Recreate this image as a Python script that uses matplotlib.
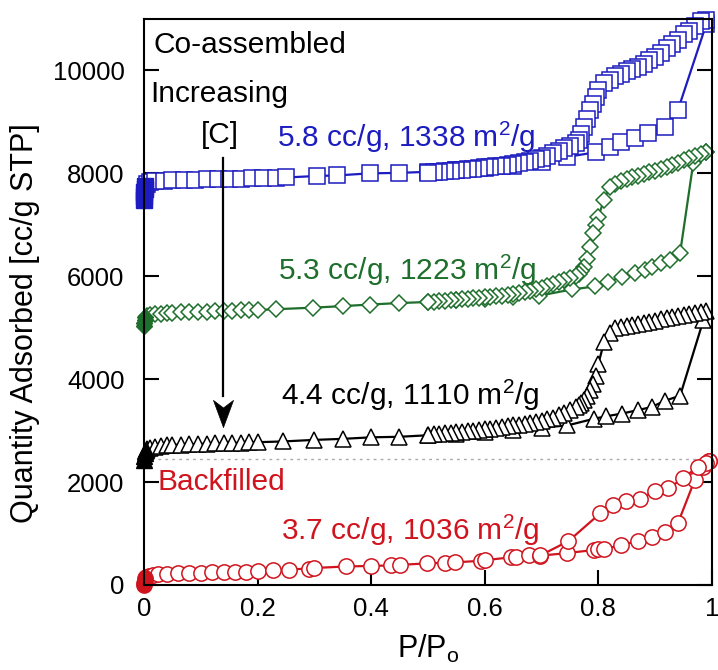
import matplotlib
matplotlib.use('Agg')
import matplotlib.pyplot as plt
from matplotlib.ticker import FuncFormatter

plt.rcParams['font.family'] = ['Liberation Sans', 'DejaVu Sans']
plt.rcParams['mathtext.fontset'] = 'custom'
plt.rcParams['mathtext.rm'] = 'Liberation Sans'
plt.rcParams['mathtext.it'] = 'Liberation Sans:italic'

# N2 isotherms, relative pressure vs quantity adsorbed (offset curves)
des_p = [0.99, 0.98, 0.97, 0.96, 0.95, 0.94, 0.93, 0.92, 0.91, 0.90,
         0.89, 0.88, 0.87, 0.86, 0.85, 0.84, 0.83, 0.82, 0.81, 0.80,
         0.795, 0.79, 0.785, 0.78, 0.775, 0.77, 0.765, 0.76, 0.75, 0.74,
         0.73, 0.72, 0.71, 0.70, 0.69, 0.68, 0.67, 0.66, 0.65, 0.64,
         0.63, 0.62, 0.61, 0.60, 0.59, 0.58, 0.57, 0.56, 0.55, 0.54,
         0.53, 0.52, 0.51, 0.50]

# blue - highest [C]
blue_low_p = [0.0, 0.0, 0.0, 0.001, 0.002]
blue_low_q = [7480, 7560, 7640, 7700, 7760]
blue_ads_p = [0.005, 0.01, 0.02, 0.035, 0.05, 0.07, 0.09, 0.11, 0.13, 0.15,
              0.17, 0.19, 0.21, 0.233, 0.25, 0.305, 0.34, 0.397, 0.449, 0.5,
              0.55, 0.6, 0.65, 0.7, 0.745, 0.795, 0.82, 0.84, 0.865, 0.888,
              0.917, 0.94, 0.99]
blue_ads_q = [7800, 7830, 7850, 7860, 7870, 7875, 7880, 7885, 7890, 7895,
              7900, 7905, 7910, 7915, 7920, 7950, 7960, 8000, 8010, 8030,
              8060, 8100, 8150, 8220, 8320, 8410, 8510, 8610, 8680, 8780,
              8900, 9230, 10900]
blue_des_q = [10990, 10960, 10870, 10770, 10700, 10600, 10520, 10430, 10330, 10260,
              10200, 10120, 10060, 10020, 9990, 9940, 9890, 9820, 9750, 9620,
              9480, 9350, 9230, 9060, 8900, 8760, 8650, 8600, 8540, 8490,
              8440, 8390, 8340, 8300, 8270, 8250, 8230, 8210, 8190, 8170,
              8150, 8140, 8130, 8120, 8100, 8090, 8080, 8070, 8060, 8050,
              8040, 8030, 8020, 8010]

# green
green_low_p = [0.0, 0.0, 0.001, 0.002]
green_low_q = [5040, 5100, 5150, 5200]
green_ads_p = [0.005, 0.01, 0.02, 0.03, 0.04, 0.05, 0.065, 0.08, 0.095, 0.11,
               0.125, 0.14, 0.155, 0.17, 0.185, 0.2, 0.233, 0.297, 0.35, 0.397,
               0.449, 0.5, 0.55, 0.6, 0.65, 0.695, 0.753, 0.794, 0.817, 0.841,
               0.864, 0.882, 0.894, 0.911, 0.926, 0.944, 0.967, 0.99]
green_ads_q = [5220, 5250, 5265, 5275, 5285, 5290, 5300, 5305, 5310, 5315,
               5320, 5325, 5330, 5335, 5340, 5345, 5360, 5390, 5420, 5450,
               5480, 5500, 5530, 5560, 5590, 5620, 5744, 5802, 5880, 5995,
               6072, 6130, 6190, 6266, 6324, 6460, 8200, 8410]
green_des_q = [8410, 8380, 8340, 8300, 8260, 8210, 8170, 8120, 8080, 8050,
               8020, 7990, 7950, 7920, 7890, 7850, 7800, 7740, 7490, 7160,
               6990, 6850, 6560, 6330, 6190, 6100, 6040, 6000, 5960, 5930,
               5890, 5850, 5810, 5780, 5750, 5720, 5700, 5680, 5660, 5640,
               5620, 5610, 5600, 5590, 5580, 5570, 5560, 5550, 5540, 5530,
               5520, 5510, 5500, 5495]

# black
black_low_p = [0.0, 0.0, 0.001, 0.002, 0.003]
black_low_q = [2430, 2500, 2560, 2600, 2620]
black_ads_p = [0.005, 0.01, 0.02, 0.03, 0.04, 0.05, 0.065, 0.08, 0.095, 0.11,
               0.125, 0.14, 0.155, 0.17, 0.185, 0.2, 0.245, 0.3, 0.35, 0.4,
               0.449, 0.5, 0.55, 0.6, 0.65, 0.7, 0.745, 0.792, 0.814, 0.841,
               0.87, 0.894, 0.917, 0.944, 0.985]
black_ads_q = [2640, 2670, 2690, 2705, 2715, 2720, 2730, 2735, 2740, 2745,
               2750, 2755, 2760, 2765, 2770, 2775, 2790, 2820, 2840, 2870,
               2880, 2910, 2940, 2980, 3020, 3060, 3100, 3230, 3280, 3330,
               3400, 3460, 3580, 3680, 5150]
black_des_q = [5320, 5300, 5280, 5260, 5240, 5220, 5200, 5180, 5160, 5140,
               5120, 5100, 5080, 5060, 5040, 5020, 4990, 4900, 4720, 4300,
               4060, 3900, 3780, 3680, 3600, 3540, 3490, 3450, 3400, 3350,
               3300, 3250, 3220, 3190, 3170, 3150, 3130, 3115, 3100, 3085,
               3070, 3055, 3040, 3025, 3010, 3000, 2990, 2980, 2970, 2960,
               2950, 2940, 2930, 2920]

# red - backfilled
red_low_p = [0.0, 0.0, 0.001, 0.002]
red_low_q = [0, 40, 90, 130]
red_ads_p = [0.004, 0.008, 0.015, 0.025, 0.04, 0.06, 0.08, 0.1, 0.12, 0.14,
             0.16, 0.18, 0.2, 0.227, 0.256, 0.29, 0.30, 0.356, 0.4, 0.435,
             0.45, 0.498, 0.53, 0.548, 0.593, 0.6, 0.647, 0.655, 0.677, 0.698,
             0.745, 0.792, 0.80, 0.81, 0.84, 0.87, 0.894, 0.917, 0.94, 0.97,
             0.985, 0.995]
red_ads_q = [150, 175, 195, 210, 220, 230, 235, 240, 245, 250,
             255, 260, 265, 285, 300, 320, 330, 360, 370, 380,
             390, 420, 430, 440, 470, 480, 540, 550, 575, 570,
             620, 680, 690, 700, 770, 860, 940, 1020, 1200, 2050,
             2300, 2400]
red_des_p = [0.995, 0.99, 0.975, 0.949, 0.923, 0.9, 0.873, 0.849, 0.826, 0.803, 0.747, 0.698]
red_des_q = [2400, 2380, 2300, 2070, 1880, 1820, 1680, 1640, 1550, 1390, 850, 575]

ref_line = 2450

BLUE = '#1c1cc0'
GREEN = '#1e6e2c'
RED = '#d0141e'
BLACK = '#000000'

fig = plt.figure(figsize=(7.18, 6.7), dpi=100)
ax = fig.add_axes([0.2006, 0.1269, 0.791, 0.8447])

ax.axhline(ref_line, color='#aaaaaa', lw=1.0, ls=(0, (2, 3)), zorder=1)


def isotherm(low_p, low_q, ads_p, ads_q, des_p_, des_q, color, marker, ms):
    kw = dict(color=color, lw=1.6, marker=marker, ms=ms, mec=color,
              mew=1.1, mfc='white', clip_on=False)
    ax.plot(ads_p, ads_q, **kw)
    ax.plot(des_p_, des_q, **kw)
    ax.plot(low_p + ads_p[:1], low_q + ads_q[:1], color=color, lw=1.6)
    ax.plot(low_p, low_q, ls='none', marker=marker, ms=ms, mec=color,
            mfc=color, clip_on=False)


isotherm(red_low_p, red_low_q, red_ads_p, red_ads_q, red_des_p, red_des_q,
         RED, 'o', 11)
isotherm(black_low_p, black_low_q, black_ads_p, black_ads_q, des_p, black_des_q,
         BLACK, '^', 11)
isotherm(green_low_p, green_low_q, green_ads_p, green_ads_q, des_p, green_des_q,
         GREEN, 'D', 8)
isotherm(blue_low_p, blue_low_q, blue_ads_p, blue_ads_q, des_p, blue_des_q,
         BLUE, 's', 11)

ax.set_xlim(0, 1)
ax.set_ylim(0, 11000)
ax.set_xticks([0, 0.2, 0.4, 0.6, 0.8, 1.0])
ax.set_yticks([0, 2000, 4000, 6000, 8000, 10000])
ax.xaxis.set_major_formatter(FuncFormatter(lambda v, p: '%g' % v))
ax.tick_params(direction='in', length=11, width=1.5, labelsize=18.5)
ax.tick_params(axis='y', right=True, pad=14)
ax.tick_params(axis='x', pad=9)
for s in ax.spines.values():
    s.set_linewidth(1.5)

ax.set_ylabel('Quantity Adsorbed [cc/g STP]', fontsize=22)
ax.yaxis.set_label_coords(-0.183, 0.463)
ax.set_xlabel(r'P/P$_\mathrm{o}$', fontsize=22, va='top')
ax.xaxis.set_label_coords(0.5, -0.085)

fs = 21.5
ax.text(0.016, 10330, 'Co-assembled', fontsize=fs, va='baseline')
ax.text(0.011, 9380, 'Increasing', fontsize=fs, va='baseline')
ax.text(0.134, 8600, '[C]', fontsize=fs, va='baseline', ha='center')

# downward arrow with a notched head
arrow_x, arrow_top, arrow_tip = 0.139, 8290, 3070
ax.plot([arrow_x, arrow_x], [arrow_top, arrow_tip + 600], color='k', lw=1.6)
head = [(0, 0), (-0.37, 1), (0, 0.72), (0.37, 1), (0, 0)]
ax.plot([arrow_x], [arrow_tip], ls='none', marker=head, ms=39,
        mfc='k', mec='k', mew=0.5)

ax.text(0.235, 8505, r'5.8 cc/g, 1338 m$^2$/g', fontsize=fs, color=BLUE, va='baseline')
ax.text(0.236, 5920, r'5.3 cc/g, 1223 m$^2$/g', fontsize=fs, color=GREEN, va='baseline')
ax.text(0.242, 3495, r'4.4 cc/g, 1110 m$^2$/g', fontsize=fs, color=BLACK, va='baseline')
ax.text(0.023, 1845, 'Backfilled', fontsize=fs, color=RED, va='baseline')
ax.text(0.242, 874, r'3.7 cc/g, 1036 m$^2$/g', fontsize=fs, color=RED, va='baseline')

fig.savefig('out.png', dpi=100)
